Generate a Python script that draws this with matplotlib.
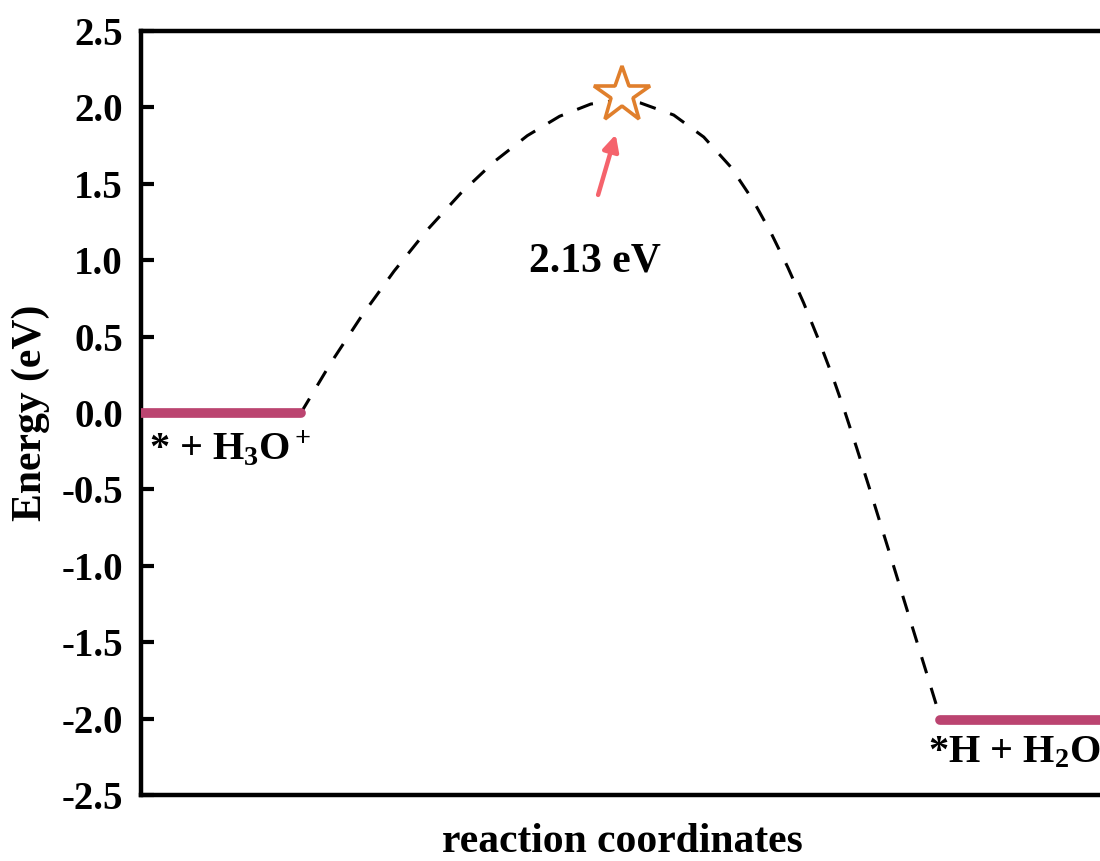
import matplotlib
matplotlib.use('Agg')
import matplotlib.pyplot as plt

plt.rcParams['font.family'] = 'Liberation Serif'
plt.rcParams['font.weight'] = 'bold'
plt.rcParams['axes.unicode_minus'] = False
plt.rcParams['mathtext.fontset'] = 'custom'
plt.rcParams['mathtext.rm'] = 'Liberation Serif:bold'
plt.rcParams['mathtext.it'] = 'Liberation Serif:bold:italic'
plt.rcParams['mathtext.bf'] = 'Liberation Serif:bold'

# energy levels (reaction coordinate, eV)
level_x = [[0.0, 1.0], [5.0, 6.0]]
level_e = [0.0, -2.01]
level_labels = [r'* + H$_3$O$^+$', r'*H + H$_2$O']

# transition path
path_x = [1.0, 1.186, 1.381, 1.583, 1.79, 2.0, 2.21, 2.417, 2.619, 2.814, 3.0,
          3.125, 3.333, 3.521, 3.690, 3.828, 3.942, 4.046, 4.146, 4.240, 4.328,
          4.400, 4.476, 4.555, 4.625, 4.697, 4.768, 4.8375, 4.909, 4.980, 5.0]
path_e = [0.0, 0.325, 0.636, 0.928, 1.197, 1.4375, 1.645, 1.815, 1.942, 2.022, 2.048,
          2.029, 1.950, 1.806, 1.610, 1.394, 1.178, 0.955, 0.720, 0.478, 0.236,
          0.020, -0.223, -0.484, -0.720, -0.962, -1.204, -1.440, -1.682, -1.924, -2.009]

ts_x, ts_e = 3.01, 2.08
barrier_label = '2.13 eV'

yticks = [-2.5, -2.0, -1.5, -1.0, -0.5, 0.0, 0.5, 1.0, 1.5, 2.0, 2.5]

fig = plt.figure(figsize=(11, 8.61), dpi=100)
ax = fig.add_axes([141/1100, 1 - 795/861, (1104 - 141)/1100, (795 - 31)/861])

ax.plot(path_x, path_e, color='black', lw=2.2, dashes=(5.5, 5), zorder=2)
for xs, e in zip(level_x, level_e):
    ax.plot(xs, [e, e], color='#bb4470', lw=7, solid_capstyle='round', zorder=3)

ax.plot(ts_x, ts_e, marker='*', markersize=42, markerfacecolor='white',
        markeredgecolor='#e07f2c', markeredgewidth=2.6, zorder=4)
ax.annotate('', xy=(2.975, 1.84), xytext=(2.855, 1.41),
            arrowprops=dict(arrowstyle='-|>', color='#f5636c', lw=3.2,
                            mutation_scale=24))
ax.text(2.84, 0.99, barrier_label, ha='center', va='center', fontsize=30,
        fontweight='bold')

ax.text(0.05, -0.31, level_labels[0], ha='left', va='baseline', fontsize=29,
        fontweight='bold')
ax.text(4.925, -2.284, level_labels[1], ha='left', va='baseline', fontsize=29,
        fontweight='bold')

ax.set_xlim(0, 6.025)
ax.set_ylim(-2.5, 2.5)
ax.set_yticks(yticks)
ax.set_yticklabels(['%.1f' % t for t in yticks])
ax.set_xticks([])
ax.tick_params(axis='y', direction='in', length=9, width=3, pad=13,
               labelsize=28)
for s in ax.spines.values():
    s.set_linewidth(3.2)

ax.set_ylabel('Energy (eV)', fontsize=30, fontweight='bold', labelpad=8)
ax.set_xlabel('reaction coordinates', fontsize=30, fontweight='bold', labelpad=20)

fig.savefig('out.png', dpi=100)
